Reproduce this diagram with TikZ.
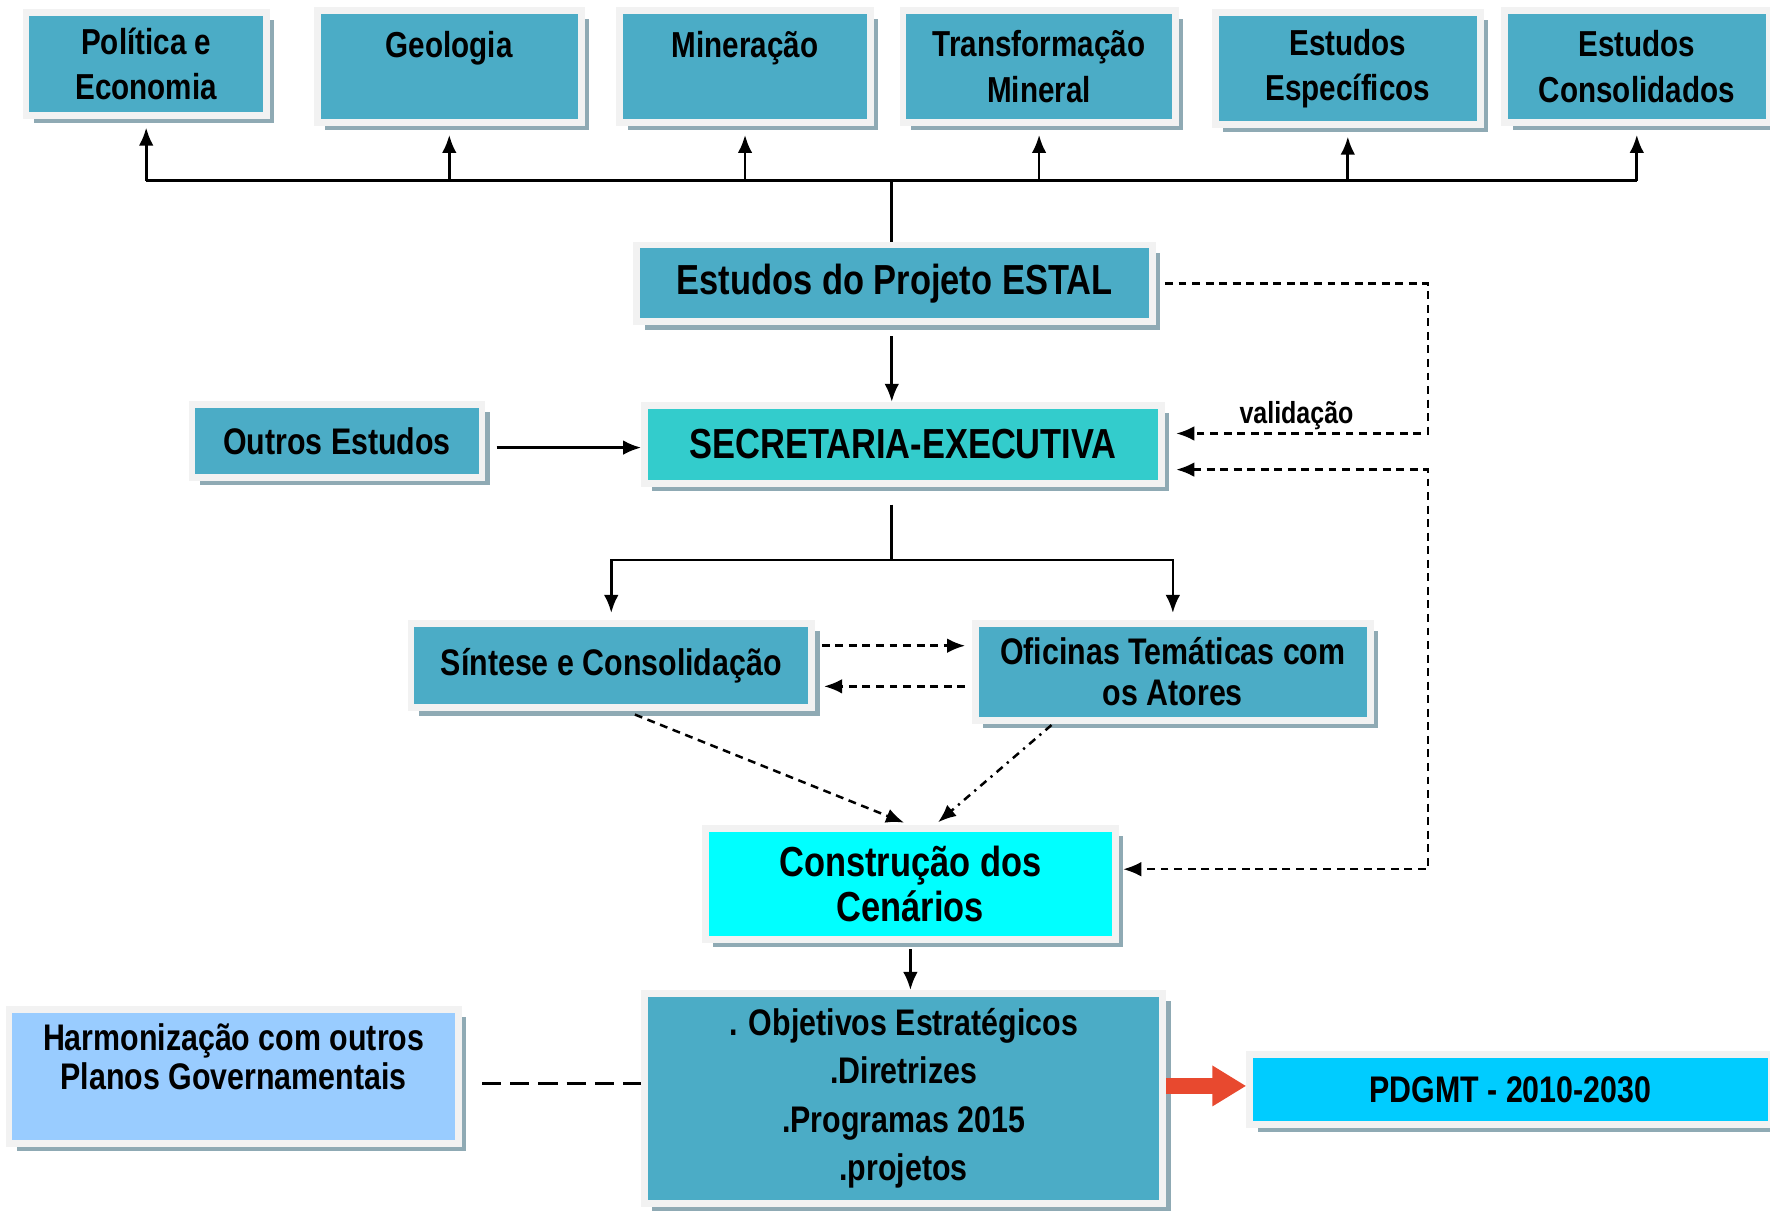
\documentclass[tikz,border=0pt]{standalone}
\usepackage{fontspec}
\setmainfont{Liberation Sans}[FakeStretch=0.82]
\usetikzlibrary{arrows.meta, shadows, calc}

\definecolor{boxteal}{HTML}{4BACC6}
\definecolor{secteal}{HTML}{33CCCC}
\definecolor{cenariocyan}{HTML}{00FFFF}
\definecolor{harmblue}{HTML}{99CCFF}
\definecolor{planblue}{HTML}{00CCFF}
\definecolor{framegray}{HTML}{F2F2F2}
\definecolor{shadowgray}{HTML}{8FAAB4}
\definecolor{bigred}{HTML}{E8492F}

\begin{document}
\begin{tikzpicture}[ x = 0.5pt, y = -0.5pt
                   , >={Latex[width=6.5pt, length=8pt]}
                   , box/.style = { rectangle
                                  , draw = framegray
                                  , line width = 3pt
                                  , inner sep = 0pt
                                  , align = center
                                  , fill = boxteal
                                  , font = \bfseries\fontsize{16.4}{18}\selectfont
                                  , drop shadow = {shadow xshift=3.5pt, shadow yshift=-3.5pt,
                                                   fill=shadowgray, opacity=1} }
                   , topbox/.style = { box
                                     , minimum height = 49.5pt
                                     , font = \bfseries\fontsize{16}{20}\selectfont }
                   , bigtext/.style = { font = \bfseries\fontsize{18.6}{20}\selectfont }
                   , link/.style = { line width = 1.2pt }
                   , dlink/.style = { line width = 1.1pt, dash pattern = on 3.5pt off 2.5pt }
                   ]

  \useasboundingbox (0,0) rectangle (1568,1073);

  % study areas
  \node (pol)   [topbox, minimum width=106.5pt, minimum height=45.5pt] at (129.5,56.5) {Política e\\Economia};
  \node (geo)   [topbox, minimum width=117pt] at (398,59) {Geologia\\~};
  \node (min)   [topbox, minimum width=111pt] at (660,59) {Mineração\\~};
  \node (trans) [topbox, minimum width=120.5pt] at (920.5,59) {Transformação\\Mineral};
  \node (espec) [topbox, minimum width=117.5pt] at (1194,60.5) {Estudos\\Específicos};
  \node (cons)  [topbox, minimum width=117pt] at (1450,59) {Estudos\\Consolidados};

  \node (estal) [box, bigtext, minimum width=228.5pt, minimum height=34pt] at (792.5,251) {Estudos do Projeto ESTAL};
  \node (sec) [box, bigtext, fill=secteal, minimum width=229pt, minimum height=34.5pt] at (800,393.5) {SECRETARIA-EXECUTIVA};
  \node (outros) [box, minimum width=128.5pt, minimum height=32.5pt] at (298.5,390.5) {Outros Estudos};

  \node (sint) [box, minimum width=177.5pt, minimum height=37.5pt] at (541.5,589.5) {Síntese e Consolidação};
  \node (ofic) [box, minimum width=175pt, minimum height=43pt] at (1039,595) {Oficinas Temáticas com\\os Atores};

  \node (const) [box, bigtext, fill=cenariocyan, minimum width=181.5pt, minimum height=49pt] at (806.5,783) {Construção dos\\Cenários};
  \node (obj) [box, font=\bfseries\fontsize{16.4}{21.5}\selectfont, minimum width=229.5pt, minimum height=93pt] at (800.5,973)
        {. Objetivos Estratégicos\\.Diretrizes\\.Programas 2015\\.projetos};
  \node (harm) [box, fill=harmblue, font=\bfseries\fontsize{16.4}{17.5}\selectfont, minimum width=199pt, minimum height=59.5pt] at (207,953.5)
        {Harmonização com outros\\Planos Governamentais\\~};
  \node (pdgmt) [box, fill=planblue, minimum width=231pt, minimum height=31pt] at (1338,965) {PDGMT - 2010-2030};

  % connectors
  \coordinate (bus) at (790,160);
  \coordinate (split) at (790,496);
  \coordinate (loop) at (1265,0);

  \draw[link] (estal.north -| bus) -- (bus);
  \draw[link] (pol.south |- bus) -- (cons.south |- bus);
  \foreach \b in {pol, geo, min, trans, espec, cons}
    \draw[link, ->, shorten >=4pt] (\b.south |- bus) -- (\b.south);

  \draw[link, ->, shorten <=5pt] (estal.south -| bus) -- (sec.north -| bus);
  \draw[link, ->, shorten <=5pt] ([yshift=-3pt]outros.east) -- ([yshift=-3pt]outros.east -| sec.west);

  \draw[dlink, ->, shorten <=4pt, shorten >=5pt] (estal.east) -- (estal.east -| loop)
    -- ([yshift=4.75pt]sec.east -| loop)
    -- node[above, font=\bfseries\fontsize{13.5}{15}\selectfont, inner sep=1pt] {validação} ([yshift=4.75pt]sec.east);
  \draw[dlink, <->, shorten <=5pt, shorten >=2pt] ([yshift=-11.25pt]sec.east) -- ([yshift=-11.25pt]sec.east -| loop)
    -- ([yshift=6.5pt]const.east -| loop) -- ([yshift=6.5pt]const.east);

  \draw[link, shorten <=8pt] (sec.south -| split) -- (split);
  \draw[link, ->, shorten >=3pt] (split) -| (sint.north);
  \draw[link, ->, shorten >=3pt] (split) -| (ofic.north);

  \draw[dlink, ->, shorten <=3pt, shorten >=3pt] ([yshift=8.75pt]sint.east) -- ([yshift=8.75pt]sint.east -| ofic.west);
  \draw[dlink, ->, shorten <=3pt, shorten >=4pt] ([yshift=-6.5pt]ofic.west) -- ([yshift=-6.5pt]ofic.west -| sint.east);

  \draw[dlink, ->, shorten <=4pt, shorten >=3pt] ([xshift=6.75pt]sint.south) -- (const.north);
  \draw[line width=1.1pt, dash pattern=on 3.5pt off 2.5pt on 1pt off 2.5pt, ->, shorten <=1pt, shorten >=2pt]
    ([xshift=-53pt]ofic.south) -- ([xshift=10.75pt]const.north);

  \draw[link, ->, shorten <=3pt] (const.south) -- (const.south |- obj.north);
  \draw[line width=1.2pt, dash pattern=on 8.5pt off 4pt, shorten <=9pt] ([yshift=-3.25pt]harm.east) -- ([yshift=-3.25pt]harm.east -| obj.west);
  \draw[bigred, line width=7pt, -{Triangle[length=15pt, width=17pt]}] ([yshift=1.5pt]obj.east |- pdgmt.west) -- ([yshift=1.5pt]pdgmt.west);

\end{tikzpicture}
\end{document}
